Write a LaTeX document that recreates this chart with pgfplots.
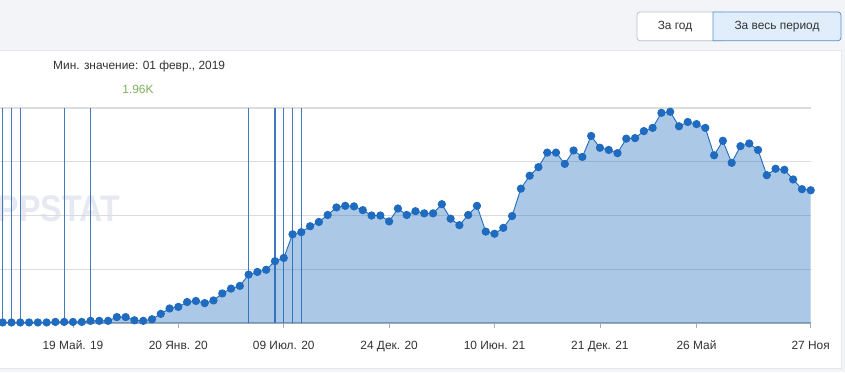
\documentclass[border=0pt]{standalone}
\usepackage{fontspec}
\setmainfont{Liberation Sans}
\usepackage{graphicx}
\usepackage{pgfplots}
\usepackage{pgfplotstable}
\pgfplotsset{compat=1.18}
\definecolor{bgc}{HTML}{F3F4F8}
\definecolor{panelborder}{HTML}{E6E8EE}
\definecolor{gridgray}{HTML}{DCDCDC}
\definecolor{axisgray}{HTML}{A5ADBA}
\definecolor{seriesblue}{HTML}{1F6BBF}
\definecolor{vlinec}{HTML}{4178BE}
\definecolor{wm}{HTML}{E6E9F1}
\definecolor{greenv}{HTML}{7DB05C}
\definecolor{textc}{HTML}{333333}
\definecolor{btnborder}{HTML}{B9C2CC}
\definecolor{btnblue}{HTML}{E0EEFB}
\definecolor{btnblueborder}{HTML}{5B8FC7}

\pgfplotstableread{
idx val
0 0.01
1 0.01
2 0.01
3 0.01
4 0.01
5 0.01
6 0.02
7 0.02
8 0.02
9 0.02
10 0.04
11 0.04
12 0.04
13 0.11
14 0.11
15 0.05
16 0.04
17 0.07
18 0.17
19 0.27
20 0.30
21 0.39
22 0.41
23 0.37
24 0.42
25 0.55
26 0.64
27 0.69
28 0.90
29 0.95
30 0.99
31 1.15
32 1.21
33 1.65
34 1.69
35 1.80
36 1.88
37 2.01
38 2.15
39 2.18
40 2.17
41 2.10
42 2.00
43 2.00
44 1.89
45 2.13
46 2.01
47 2.08
48 2.04
49 2.04
50 2.21
51 1.94
52 1.82
53 2.01
54 2.18
55 1.70
56 1.66
57 1.77
58 1.99
59 2.50
60 2.74
61 2.90
62 3.17
63 3.17
64 2.96
65 3.21
66 3.09
67 3.48
68 3.26
69 3.22
70 3.16
71 3.43
72 3.44
73 3.57
74 3.63
75 3.91
76 3.93
77 3.66
78 3.74
79 3.70
80 3.63
81 3.12
82 3.39
83 2.98
84 3.29
85 3.34
86 3.22
87 2.75
88 2.87
89 2.85
90 2.67
91 2.49
92 2.47
}\datatable

\begin{document}
\begin{tikzpicture}[x=1pt,y=1pt]
\useasboundingbox (0,0) rectangle (845,372);
\clip (0,0) rectangle (845,372);
\fill[bgc] (0,0) rectangle (845,372);
\draw[panelborder, fill=white, line width=1pt] (-2,4) rectangle (841,321);
% watermark
\node[anchor=base east, inner sep=0pt, text=wm, font=\bfseries\fontsize{37}{40}\selectfont] at (120,150.3) {\scalebox{0.87}[1]{PPSTAT}};
% header texts
\node[anchor=base west, inner sep=0pt, text=textc, font=\fontsize{11.9}{14}\selectfont] at (53,302.7) {Мин. значение: 01 февр., 2019};
\node[anchor=base, inner sep=0pt, text=greenv, font=\fontsize{11.9}{14}\selectfont] at (138,278) {1.96K};
% buttons
\draw[btnborder, fill=white, rounded corners=3pt, line width=0.8pt] (637,331.3) rectangle (725,360);
\draw[btnblueborder, fill=btnblue, line width=0.8pt] (713,331.3) -- (713,360) {[rounded corners=3pt] -- (841,360) -- (841,331.3)} -- cycle;
\node[anchor=base, inner sep=0pt, text=textc, font=\fontsize{11.9}{14}\selectfont] at (675,342) {За год};
\node[anchor=base, inner sep=0pt, text=textc, font=\fontsize{11.9}{14}\selectfont] at (777,342) {За весь период};
\begin{axis}[
  at={(0pt,49pt)}, anchor=south west,
  scale only axis, width=810.7pt, height=215pt,
  xmin=-0.307, xmax=92, ymin=0, ymax=4,
  clip=false,
  axis x line*=bottom, axis y line*=left,
  axis line style={-},
  x axis line style={draw=axisgray, line width=1.6pt},
  y axis line style={draw=none},
  ytick={1,2,3,4}, yticklabels={}, ytick style={draw=none},
  ymajorgrids, grid style={gridgray, line width=1.2pt},
  xtick={8,20,32,44,56,68,79,92},
  xticklabels={19 Май. 19, 20 Янв. 20, 09 Июл. 20, 24 Дек. 20, 10 Июн. 21, 21 Дек. 21, 26 Май, 27 Ноя},
  xtick style={draw=axisgray, line width=0.8pt},
  tick align=outside, major tick length=5pt,
  xticklabel style={anchor=base, yshift=-21pt, text=textc, font=\fontsize{11.9}{14}\selectfont},
]
\addplot[ycomb, draw=vlinec, line width=1.1pt, mark=none] coordinates {(0,4) (1,4) (2,4) (7,4) (10,4) (28,4) (31,4) (32,4) (33,4) (34,4)};
\addplot[draw=none, fill=seriesblue, fill opacity=0.37, mark=none] table[x=idx, y=val] {\datatable} \closedcycle;
\addplot[draw=seriesblue, line width=0.9pt, mark=*, mark size=3.65pt, mark options={fill=seriesblue, draw=seriesblue}] table[x=idx, y=val] {\datatable};
\end{axis}
\end{tikzpicture}
\end{document}
